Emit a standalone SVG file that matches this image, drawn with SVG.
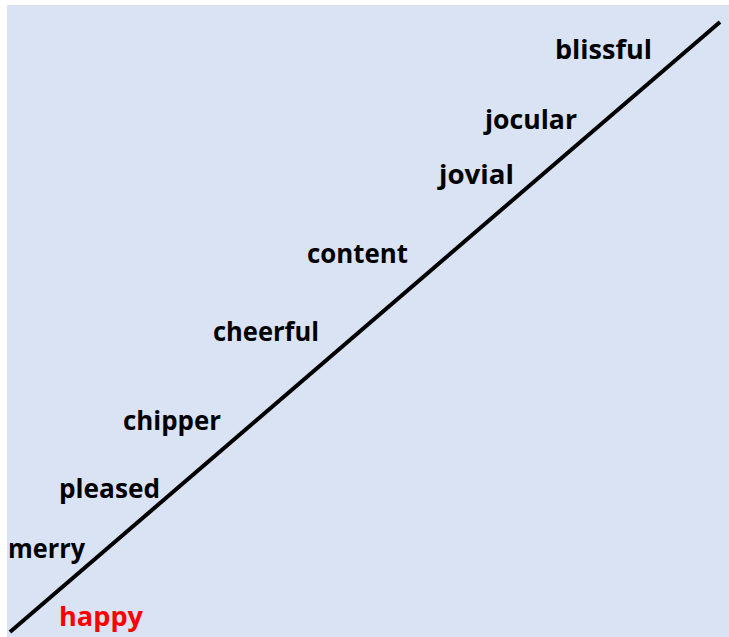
<svg xmlns="http://www.w3.org/2000/svg" width="729" height="637" viewBox="0 0 729 637">
<style>
.w{font-family:"Open Sans","Liberation Sans",sans-serif;font-weight:bold;font-size:27px;fill:#000}
.r{fill:#ff0000}
</style>
<rect x="0" y="0" width="729" height="637" fill="#ffffff"/>
<rect x="7" y="5" width="722" height="632" fill="#dae3f3"/>
<g id="connectors">
<line x1="10" y1="632" x2="720" y2="22" stroke="#000" stroke-width="4"/>
</g>
<g id="blissful"><text class="w" x="555" y="59" textLength="97" lengthAdjust="spacingAndGlyphs">blissful</text></g>
<g id="jocular"><text class="w" x="485" y="129" textLength="92" lengthAdjust="spacingAndGlyphs">jocular</text></g>
<g id="jovial"><text class="w" x="439" y="184" textLength="75" lengthAdjust="spacingAndGlyphs">jovial</text></g>
<g id="content"><text class="w" x="307" y="263" textLength="101" lengthAdjust="spacingAndGlyphs">content</text></g>
<g id="cheerful"><text class="w" x="213" y="341" textLength="106" lengthAdjust="spacingAndGlyphs">cheerful</text></g>
<g id="chipper"><text class="w" x="123" y="430" textLength="98" lengthAdjust="spacingAndGlyphs">chipper</text></g>
<g id="pleased"><text class="w" x="59" y="498" textLength="101" lengthAdjust="spacingAndGlyphs">pleased</text></g>
<g id="merry"><text class="w" x="8" y="558" textLength="77" lengthAdjust="spacingAndGlyphs">merry</text></g>
<g id="happy"><text class="w r" x="59" y="626" textLength="84" lengthAdjust="spacingAndGlyphs">happy</text></g>
</svg>
